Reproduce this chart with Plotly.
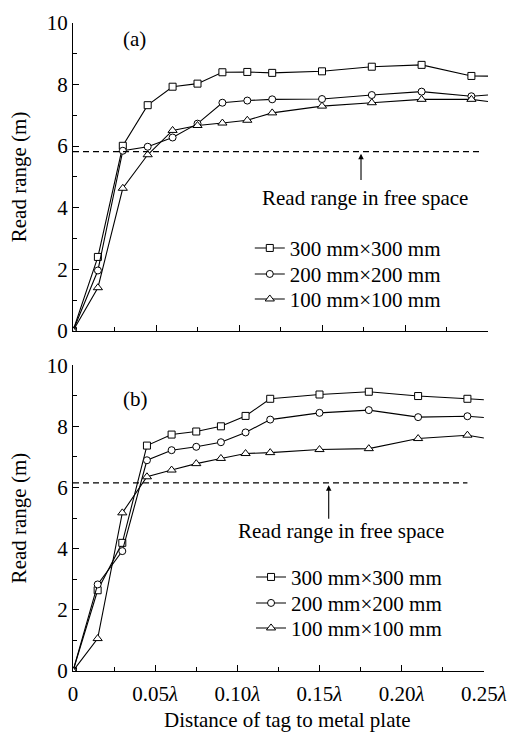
import plotly.graph_objects as go

# ---------------- data ----------------
x_dist = [0, 0.015, 0.03, 0.045, 0.06, 0.075, 0.09, 0.105, 0.12, 0.15, 0.18, 0.21, 0.24, 0.26]

a_300 = [0, 2.40, 6.01, 7.33, 7.93, 8.03, 8.40, 8.41, 8.38, 8.43, 8.58, 8.64, 8.28, 8.27]
a_200 = [0, 1.96, 5.85, 5.98, 6.28, 6.73, 7.41, 7.48, 7.52, 7.53, 7.66, 7.77, 7.62, 7.70]
a_100 = [0, 1.40, 4.63, 5.72, 6.51, 6.67, 6.75, 6.84, 7.08, 7.30, 7.41, 7.52, 7.52, 7.38]

b_300 = [0, 2.64, 4.19, 7.37, 7.73, 7.83, 8.00, 8.34, 8.90, 9.04, 9.13, 8.99, 8.90, 8.84]
b_200 = [0, 2.83, 3.92, 6.89, 7.22, 7.33, 7.48, 7.80, 8.22, 8.44, 8.53, 8.30, 8.33, 8.25]
b_100 = [0, 1.06, 5.17, 6.35, 6.57, 6.78, 6.95, 7.11, 7.14, 7.24, 7.27, 7.60, 7.71, 7.53]

free_a_x = [0, 0.247]
free_a_y = [5.82, 5.82]
free_b_x = [0, 0.24]
free_b_y = [6.15, 6.15]

series_names = ["300 mm×300 mm", "200 mm×200 mm", "100 mm×100 mm"]
symbols = ["square", "circle", "triangle-up"]

x_tickvals = [0, 0.05, 0.10, 0.15, 0.20, 0.25]
x_ticktext = ["0", "0.05<i>λ</i>", "0.10<i>λ</i>", "0.15<i>λ</i>", "0.20<i>λ</i>", "0.25<i>λ</i>"]
y_tickvals = [0, 2, 4, 6, 8, 10]

FONT = "Liberation Serif, Times New Roman, serif"
FS = 21

fig = go.Figure()

# one legend per entry, so that entries can be spaced like the original
legend_ids_a = ["legend", "legend2", "legend3"]
legend_ids_b = ["legend4", "legend5", "legend6"]
legend_y_a = [0.6523, 0.6122, 0.5736]
legend_y_b = [0.1446, 0.1045, 0.0659]

def add_series(xa, ya, data, legends):
    for vals, name, sym, lg in zip(data, series_names, symbols, legends):
        fig.add_trace(go.Scatter(
            x=x_dist, y=vals, name=name, xaxis=xa, yaxis=ya, legend=lg,
            mode="lines+markers",
            line=dict(color="black", width=1.1),
            marker=dict(symbol=sym, size=7 if sym != "triangle-up" else 8,
                        color="white", line=dict(color="black", width=1)),
        ))

add_series("x", "y", [a_300, a_200, a_100], legend_ids_a)
add_series("x2", "y2", [b_300, b_200, b_100], legend_ids_b)

fig.add_trace(go.Scatter(x=free_a_x, y=free_a_y, xaxis="x", yaxis="y", mode="lines",
                         line=dict(color="black", width=1.1, dash="6px,4px"), showlegend=False))
fig.add_trace(go.Scatter(x=free_b_x, y=free_b_y, xaxis="x2", yaxis="y2", mode="lines",
                         line=dict(color="black", width=1.1, dash="6px,4px"), showlegend=False))

axis_common = dict(
    showline=True, linecolor="black", linewidth=1.2, mirror=False,
    showgrid=False, zeroline=False, automargin=False,
    ticks="inside", ticklen=6, tickwidth=1.2, tickcolor="black",
    tickfont=dict(family=FONT, size=FS, color="black"),
)
minor_x = dict(tickvals=[0.025, 0.075, 0.125, 0.175, 0.225], ticks="inside",
               ticklen=4, tickcolor="black", tickwidth=1.2)
minor_y = dict(dtick=1, ticks="inside", ticklen=4, tickcolor="black", tickwidth=1.2)

layout_legends = {}
for lg, yy in zip(legend_ids_a, legend_y_a):
    layout_legends[lg] = dict(x=0.426, y=yy, xanchor="left", yanchor="middle",
                              bgcolor="rgba(0,0,0,0)", font=dict(family=FONT, size=FS))
for lg, yy in zip(legend_ids_b, legend_y_b):
    layout_legends[lg] = dict(x=0.429, y=yy, xanchor="left", yanchor="middle",
                              bgcolor="rgba(0,0,0,0)", font=dict(family=FONT, size=FS))

fig.update_layout(
    width=510, height=735,
    margin=dict(l=73, r=22, t=23, b=64),
    paper_bgcolor="white", plot_bgcolor="white",
    font=dict(family=FONT, size=FS, color="black"),
    xaxis=dict(**axis_common, domain=[0, 1], range=[0, 0.25], anchor="y",
               tickvals=x_tickvals, showticklabels=False, minor=minor_x),
    yaxis=dict(**axis_common, domain=[0.525, 1], range=[0, 10], anchor="x",
               tickvals=y_tickvals, minor=minor_y,
               title=dict(text="Read range (m)", font=dict(family=FONT, size=FS), standoff=14)),
    xaxis2=dict(**axis_common, domain=[0, 0.99], range=[0, 0.25], anchor="y2",
                tickvals=x_tickvals, ticktext=x_ticktext, minor=minor_x, ticklabelstandoff=4),
    yaxis2=dict(**axis_common, domain=[0, 0.472], range=[0, 10], anchor="x2",
                tickvals=y_tickvals, minor=minor_y,
                title=dict(text="Read range (m)", font=dict(family=FONT, size=FS), standoff=14)),
    **layout_legends,
    annotations=[
        dict(text="Distance of tag to metal plate", x=0.516, y=-0.0756, xref="paper", yref="paper",
             xanchor="center", yanchor="middle", showarrow=False, font=dict(family=FONT, size=FS)),
        dict(text="(a)", x=0.037, y=9.48, xref="x", yref="y", showarrow=False,
             font=dict(family=FONT, size=FS)),
        dict(text="(b)", x=0.038, y=8.89, xref="x2", yref="y2", showarrow=False,
             font=dict(family=FONT, size=FS)),
        dict(text="", x=0.1735, y=5.75, ax=0.1735, ay=4.85, xref="x", yref="y",
             axref="x", ayref="y", showarrow=True, arrowhead=2, arrowsize=1, arrowwidth=1.1,
             arrowcolor="black"),
        dict(text="", x=0.1556, y=6.07, ax=0.1556, ay=4.93, xref="x2", yref="y2",
             axref="x2", ayref="y2", showarrow=True, arrowhead=2, arrowsize=1, arrowwidth=1.1,
             arrowcolor="black"),
        dict(text="Read range in free space", x=0.176, y=4.31, xref="x", yref="y",
             showarrow=False, font=dict(family=FONT, size=FS)),
        dict(text="Read range in free space", x=0.163, y=4.57, xref="x2", yref="y2",
             showarrow=False, font=dict(family=FONT, size=FS)),
    ],
)

# remove the browser's default 8px page margin so the figure fills the window exactly
fig.write_html("out.html", config={"displayModeBar": False},
               post_script="document.body.style.margin='0';document.body.style.overflow='hidden';")
